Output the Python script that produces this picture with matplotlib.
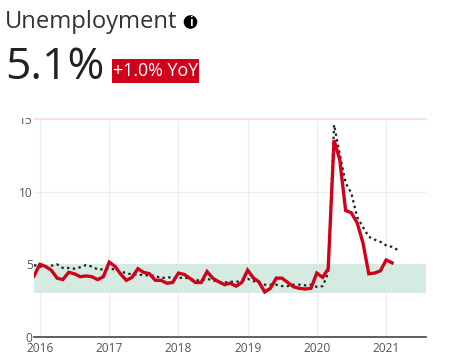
import pandas as pd
from matplotlib import pyplot as plt
from matplotlib.patches import Circle, Rectangle
from matplotlib.ticker import FixedLocator

W, H = 458, 357

plt.rcParams['font.family'] = ['Open Sans', 'DejaVu Sans']

title = 'Unemployment'
headline = '5.1%'
badge = '+1.0% YoY'
tick_years = ['2016', '2017', '2018', '2019', '2020', '2021']
y_ticks = [0, 5, 10, 15]
band_low, band_high = 3, 5

# monthly values, Dec 2015 onwards
months_actual = pd.date_range('2015-12-01', '2021-02-01', freq='MS')
months_dotted = pd.date_range('2015-12-01', '2021-03-01', freq='MS')

actual = [4.2,
          5.0, 4.85, 4.6, 4.05, 3.95, 4.45, 4.35, 4.15, 4.2, 4.15, 3.95, 4.15,
          5.15, 4.85, 4.35, 3.9, 4.1, 4.7, 4.45, 4.35, 3.9, 3.9, 3.7, 3.75,
          4.4, 4.3, 4.05, 3.75, 3.75, 4.5, 4.05, 3.8, 3.6, 3.7, 3.5, 3.75,
          4.6, 4.05, 3.8, 3.1, 3.35, 4.05, 4.05, 3.75, 3.45, 3.35, 3.3, 3.35,
          4.4, 4.1, 4.7, 13.55, 12.2, 8.7, 8.55, 7.85, 6.45, 4.35, 4.4, 4.55,
          5.3, 5.1]

dotted = [4.95,
          4.85, 4.8, 4.9, 5.0, 4.75, 4.75, 4.7, 4.8, 4.95, 4.85, 4.65, 4.65,
          4.7, 4.65, 4.5, 4.4, 4.3, 4.3, 4.25, 4.25, 4.2, 4.05, 4.1, 4.1,
          4.05, 4.1, 4.0, 3.9, 3.9, 4.0, 3.9, 3.8, 3.75, 3.8, 3.8, 3.85,
          4.0, 3.85, 3.7, 3.6, 3.6, 3.6, 3.5, 3.5, 3.6, 3.6, 3.55, 3.6,
          3.45, 3.5, 4.4, 14.6, 12.6, 10.6, 9.9, 8.25, 7.55, 6.9, 6.7, 6.55,
          6.3, 6.2, 6.0]

fig = plt.figure(figsize=(W / 100, H / 100), dpi=100)
ax = fig.add_axes([34 / W, (H - 337) / H, (426 - 34) / W, (337 - 119) / H])

ax.set_xlim(pd.Timestamp('2015-12-01'), pd.Timestamp('2021-07-30'))
ax.set_ylim(0, 15)

ax.axhspan(band_low, band_high, color='#d5ebe2', lw=0, zorder=1)
ax.plot(months_dotted, dotted, color='#222222', lw=1.6, ls=(0, (1.1, 1.5)), zorder=3, clip_on=False)
ax.plot(months_actual, actual, color='#d0021b', lw=2.4, solid_joinstyle='miter', zorder=4)

ax.set_xticks([pd.Timestamp(y + '-01-01') for y in tick_years])
ax.set_xticklabels(tick_years)
ax.yaxis.set_major_locator(FixedLocator(y_ticks))
ax.grid(True, color='#eeeeee', lw=1, zorder=0)
ax.set_axisbelow(True)
ax.tick_params(axis='both', length=0, labelsize=8.6, labelcolor='#555555')
ax.tick_params(axis='x', pad=3.5)
ax.tick_params(axis='y', pad=1)

for s in ['left', 'right']:
    ax.spines[s].set_visible(False)
ax.spines['top'].set_color('#fbdde2')
ax.spines['top'].set_linewidth(1.2)
ax.spines['bottom'].set_color('#444444')
ax.spines['bottom'].set_linewidth(1.2)

# the top tick label is cut off by the chart frame in the original
clip_box = Rectangle((0, 0), W, H - 118, transform=None)
for lab in ax.get_yticklabels():
    lab.set_clip_path(clip_box)
    lab.set_clip_on(True)

fig.text(5 / W, 1 - 28 / H, title, fontsize=17.1, color='#333333', va='baseline')
fig.text(5 / W, 1 - 79 / H, headline, fontsize=32, color='#222222', va='baseline')

fig.patches.append(Rectangle((112 / W, 1 - 83 / H), 87 / W, 24 / H, transform=fig.transFigure,
                             facecolor='#d0021b', edgecolor='none', figure=fig))
fig.text(155.5 / W, 1 - 71 / H, badge, fontsize=12.9, color='white', ha='center', va='center')

fig.patches.append(Circle((190.5, H - 22), 6.8, transform=None, facecolor='black',
                          edgecolor='none', figure=fig))
fig.text(190.5 / W, 1 - 22 / H, 'i', fontsize=8.5, fontweight='bold', color='white',
         ha='center', va='center')

fig.savefig('out.png', dpi=100)
